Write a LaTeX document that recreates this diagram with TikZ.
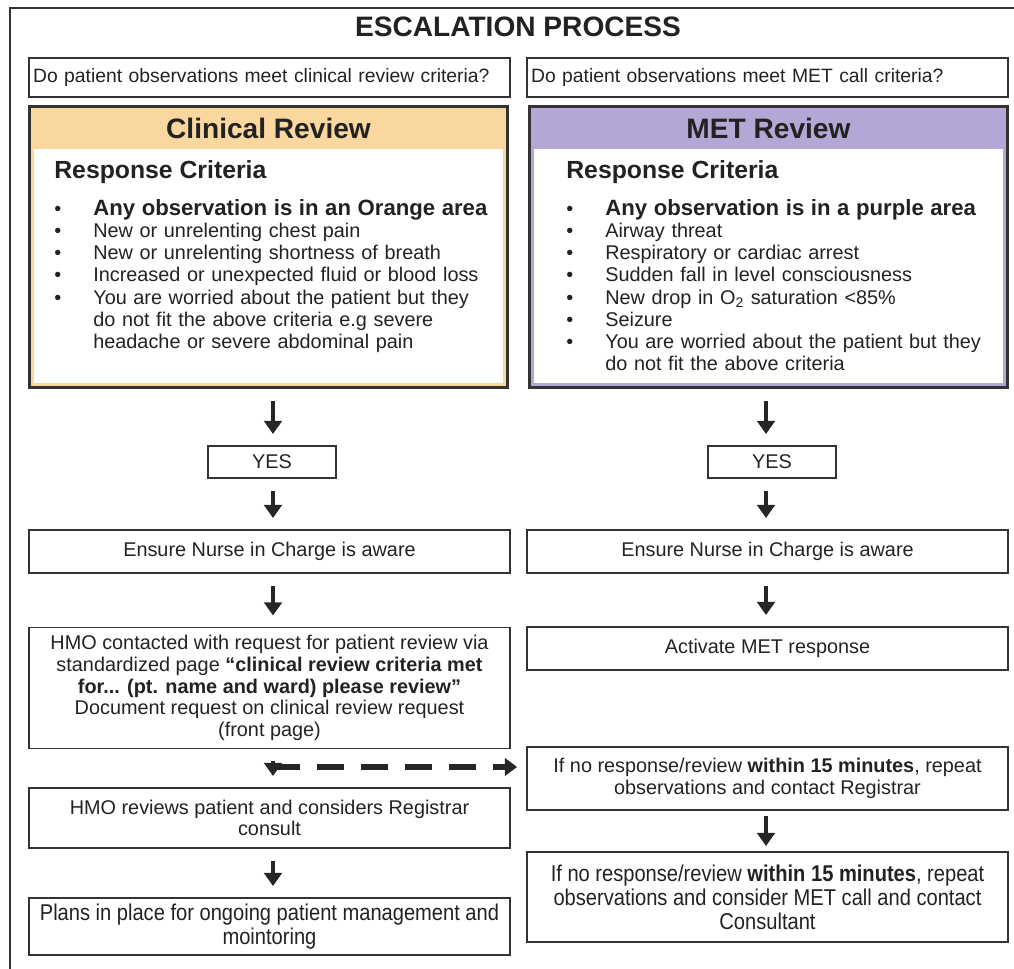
\documentclass[tikz,border=0pt]{standalone}
\usepackage{fontspec}
\setmainfont{Liberation Sans}
\newfontfamily\narrowfont[FakeStretch=0.88]{Liberation Sans}
\usetikzlibrary{positioning,arrows.meta,calc}
\definecolor{crorange}{HTML}{FBD7A0}
\definecolor{metpurple}{HTML}{B4A7D6}
\definecolor{boxline}{HTML}{333333}
\definecolor{inktext}{HTML}{222222}
\newcommand{\critem}[1]{\par\noindent\makebox[0.78cm][l]{\textbullet}\parbox[t]{8.3cm}{\raggedright #1}}

\begin{document}
\begin{tikzpicture}[x=0.02cm, y=-0.02cm,
    stepbox/.style={draw=boxline, line width=1.1pt, minimum width=9.62cm, align=center,
      text=inktext, font=\fontsize{11.3}{12.4}\selectfont, inner sep=2pt},
    qbox/.style={stepbox, minimum height=0.78cm, align=left, text width=9.46cm, inner xsep=0.08cm,
      font=\fontsize{11}{12.4}\selectfont},
    yesbox/.style={stepbox, minimum width=2.56cm, minimum height=0.64cm},
    narrowbox/.style={stepbox, font=\narrowfont\fontsize{13}{13.6}\selectfont},
    reviewbox/.style={draw=boxline, line width=1.7pt, minimum width=9.58cm, minimum height=5.64cm},
    headtxt/.style={font=\fontsize{16}{18}\selectfont\bfseries, text=inktext},
    crittitle/.style={anchor=west, font=\fontsize{14.1}{16}\selectfont\bfseries, text=inktext, inner sep=0pt},
    critlist/.style={anchor=north west, text width=9.2cm, align=left, inner sep=0pt,
      font=\fontsize{11.3}{12.6}\selectfont, text=inktext},
    flowarrow/.style={line width=2.1pt, draw=black!85, -{Triangle[width=10pt,length=7.5pt]},
      shorten <=0.24cm, shorten >=0.22cm},
    dasharrow/.style={line width=3pt, draw=black!85, dash pattern=on 0.54cm off 0.34cm,
      -{Triangle[width=10pt,length=7pt]}, shorten >=0.18cm}]
  \useasboundingbox (0,0) rectangle (1014,969);
  % outer frame, cut at the right and the bottom
  \draw[boxline, line width=1.1pt] (10,969) -- (10,8) -- (1014,8);
  \node[headtxt] (title) at (518,27) {ESCALATION PROCESS};

  \coordinate (colL) at (273,0);
  \coordinate (colR) at (766,0);

  % questions
  \node[qbox] (qclin) at (269.5,77.5) {Do patient observations meet clinical review criteria?};
  \node[qbox] (qmet) at (767.5,77.5) {Do patient observations meet MET call criteria?};

  % clinical review criteria
  \node[reviewbox, fill=crorange] (crbox) at (268.5,247) {};
  \fill[white] ($(crbox.north west)+(6,44)$) rectangle ($(crbox.south east)+(-6,-6)$);
  \node[headtxt] (crhead) at (268.5,128) {Clinical Review};
  \node[crittitle] (crtitle) at (54,172) {Response Criteria};
  \node[critlist] (crlist) at (54,193) {%
    \critem{\fontsize{12.6}{12.6}\selectfont\bfseries Any observation is in an Orange area}%
    \critem{New or unrelenting chest pain}%
    \critem{New or unrelenting shortness of breath}%
    \critem{Increased or unexpected fluid or blood loss}%
    \critem{You are worried about the patient but they\\do not fit the above criteria e.g severe\\headache or severe abdominal pain}};

  % MET review criteria
  \node[reviewbox, fill=metpurple] (metbox) at (768.5,247) {};
  \fill[white] ($(metbox.north west)+(6,44)$) rectangle ($(metbox.south east)+(-6,-6)$);
  \node[headtxt] (methead) at (768.5,128) {MET Review};
  \node[crittitle] (mettitle) at (566,172) {Response Criteria};
  \node[critlist] (metlist) at (566,193) {%
    \critem{\fontsize{12.6}{12.6}\selectfont\bfseries Any observation is in a purple area}%
    \critem{Airway threat}%
    \critem{Respiratory or cardiac arrest}%
    \critem{Sudden fall in level consciousness}%
    \critem{New drop in O\textsubscript{2} saturation <85\%}%
    \critem{Seizure}%
    \critem{You are worried about the patient but they\\do not fit the above criteria}};

  % left column
  \node[yesbox] (yesL) at (272,462) {YES};
  \node[stepbox, minimum height=0.86cm] (nurseL) at (269.5,551.5) {Ensure Nurse in Charge is aware};
  \node[stepbox, minimum height=2.42cm] (hmo) at (269.5,688) {HMO contacted with request for patient review via\\
    standardized page \textbf{“clinical review criteria met}\\\textbf{for... (pt. name and ward) please review”}\\
    Document request on clinical review request\\(front page)};
  \node[stepbox, minimum height=1.2cm] (hmorev) at (269.5,818) {HMO reviews patient and considers Registrar\\consult};
  \node[narrowbox, minimum height=1.14cm] (plans) at (269.5,926.5) {Plans in place for ongoing patient management and\\mointoring};

  % right column
  \node[yesbox] (yesR) at (772,462) {YES};
  \node[stepbox, minimum height=0.86cm] (nurseR) at (767.5,551.5) {Ensure Nurse in Charge is aware};
  \node[stepbox, minimum height=0.86cm] (activate) at (767.5,648.5) {Activate MET response};
  \node[stepbox, minimum height=1.26cm] (registrar) at (767.5,778.5) {If no response/review \textbf{within 15 minutes}, repeat\\observations and contact Registrar};
  \node[narrowbox, minimum height=1.8cm] (consultant) at (767.5,897) {If no response/review \textbf{within 15 minutes}, repeat\\observations and consider MET call and contact\\Consultant};

  % connectors
  \draw[flowarrow] (crbox.south -| colL) -- (yesL.north -| colL);
  \draw[flowarrow] (yesL.south -| colL) -- (nurseL.north -| colL);
  \draw[flowarrow] (nurseL.south -| colL) -- (hmo.north -| colL);
  \draw[flowarrow] (hmo.south -| colL) -- (hmorev.north -| colL);
  \draw[flowarrow] (hmorev.south -| colL) -- (plans.north -| colL);
  \draw[flowarrow] (metbox.south -| colR) -- (yesR.north -| colR);
  \draw[flowarrow] (yesR.south -| colR) -- (nurseR.north -| colR);
  \draw[flowarrow] (nurseR.south -| colR) -- (activate.north -| colR);
  \draw[flowarrow, shorten <=0.1cm, shorten >=0.1cm] (registrar.south -| colR) -- (consultant.north -| colR);
  \coordinate (split) at (273,767);
  \draw[dasharrow] (split) -- (split -| registrar.west);
\end{tikzpicture}
\end{document}
